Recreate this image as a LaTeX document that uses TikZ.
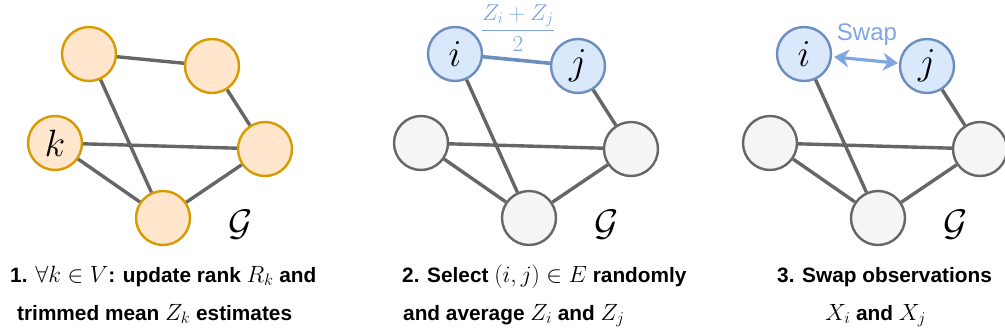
\RequirePackage{fix-cm}
\documentclass[tikz,border=0pt]{standalone}
\usepackage{fontspec}
\setmainfont{Liberation Sans}
\usetikzlibrary{arrows.meta}
\DeclareMathSizes{20.8}{23.5}{16.5}{12}
\definecolor{ofill}{HTML}{FFE6CC}
\definecolor{odraw}{HTML}{D79B00}
\definecolor{bfill}{HTML}{DAE8FC}
\definecolor{bdraw}{HTML}{6C8EBF}
\definecolor{gfill}{HTML}{F5F5F5}
\definecolor{gdraw}{HTML}{666666}
\definecolor{lblue}{HTML}{7EA6E0}
\begin{document}
\begin{tikzpicture}[x=1pt,y=-1pt,
  vert/.style={circle,minimum size=54pt,inner sep=0pt,line width=2.4pt,font=\fontsize{38}{40}\selectfont},
  onode/.style={vert,fill=ofill,draw=odraw},
  bnode/.style={vert,fill=bfill,draw=bdraw},
  gnode/.style={vert,fill=gfill,draw=gdraw},
  gedge/.style={draw=gdraw,line width=3.4pt},
  bedge/.style={draw=bdraw,line width=3.6pt},
  glabel/.style={font=\fontsize{37}{40}\selectfont},
  captext/.style={anchor=base west,inner sep=0pt,font=\fontsize{20.8}{24}\selectfont\bfseries},
]
\useasboundingbox (0,0) rectangle (1005,335);
% Panel 1
\node[onode] (a1) at (89,54) {};
\node[onode] (a2) at (212,66) {};
\node[onode] (a3) at (55,143) {$k$};
\node[onode] (a4) at (265,149) {};
\node[onode] (a5) at (163,218) {};
\draw[gedge] (a1) -- (a2) (a1) -- (a5) (a2) -- (a4) (a3) -- (a4) (a3) -- (a5) (a5) -- (a4);
\node[glabel] (ga) at (241,225) {$\mathcal{G}$};
% Panel 2
\node[bnode] (b1) at (455,54) {$i$};
\node[bnode] (b2) at (578,66) {$j$};
\node[gnode] (b3) at (421,143) {};
\node[gnode] (b4) at (631,149) {};
\node[gnode] (b5) at (529,218) {};
\draw[gedge] (b1) -- (b5) (b2) -- (b4) (b3) -- (b4) (b3) -- (b5) (b5) -- (b4);
\draw[bedge] (b1) -- (b2);
\node[glabel] (gb) at (607,225) {$\mathcal{G}$};
\node[text=lblue,font=\fontsize{23}{25}\selectfont] (frac) at (518,28) {$\displaystyle\frac{Z_i+Z_j}{2}$};
% Panel 3
\node[bnode] (c1) at (804,54) {$i$};
\node[bnode] (c2) at (927,66) {$j$};
\node[gnode] (c3) at (770,143) {};
\node[gnode] (c4) at (980,149) {};
\node[gnode] (c5) at (878,218) {};
\draw[gedge] (c1) -- (c5) (c2) -- (c4) (c3) -- (c4) (c3) -- (c5) (c5) -- (c4);
\draw[draw=lblue,line width=3.2pt,{Stealth[length=15pt,width=18pt,inset=5pt]}-{Stealth[length=15pt,width=18pt,inset=5pt]},shorten <=2pt,shorten >=1pt] (c1) -- (c2);
\node[text=lblue,font=\fontsize{24}{26}\selectfont] (swap) at (867,35) {Swap};
\node[glabel] (gc) at (956,225) {$\mathcal{G}$};
% Captions
\node[captext] (t1a) at (10,282) {1. $\forall k\in V$: update rank $R_k$ and};
\node[captext] (t1b) at (17,320) {trimmed mean $Z_k$ estimates};
\node[captext] (t2a) at (402,282) {2. Select $(i,j)\in E$ randomly};
\node[captext] (t2b) at (403,320) {and average $Z_i$ and $Z_j$};
\node[captext] (t3a) at (777,282) {3. Swap observations};
\node[captext] (t3b) at (825,320) {$X_i$ and $X_j$};
\end{tikzpicture}
\end{document}
